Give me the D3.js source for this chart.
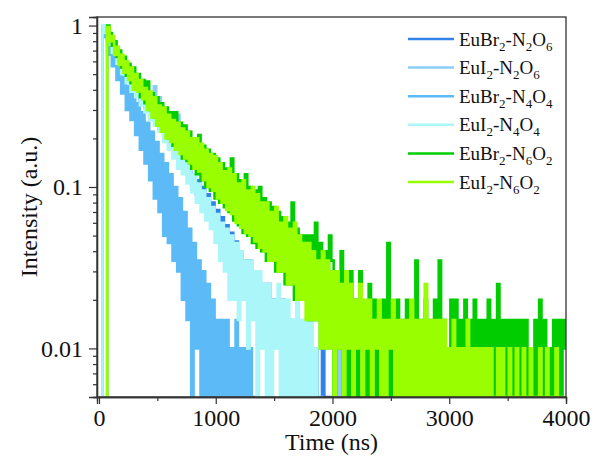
<!DOCTYPE html>
<html>
<head>
<meta charset="utf-8">
<script src="https://cdn.jsdelivr.net/npm/d3@7"></script>
<style>
  body { margin: 0; background: #fff; }
  text { font-family: "Liberation Serif", "Times New Roman", serif; fill: #111; }
</style>
</head>
<body>
<svg width="594" height="457"></svg>
<script>
const time = d3.range(0, 4001, 20);

const seriesNames = ["EuBr_2-N_2O_6", "EuI_2-N_2O_6", "EuBr_2-N_4O_4", "EuI_2-N_4O_4", "EuBr_2-N_6O_2", "EuI_2-N_6O_2"];
const seriesColors = ["#3282ec", "#8ccdf8", "#5cbaf6", "#aaf6f8", "#00cc00", "#99ff00"];

const EuBr2_N2O6 = [0,0,0.97,0.92,0.82,0.78,0.70,0.68,0.61,0.60,
  0.53,0.53,0.47,0.47,0.42,0.43,0.38,0.39,0.34,0.36,
  0.31,0.33,0.28,0.30,0.26,0.27,0.23,0.25,0.21,0.23,
  0.19,0.21,0.17,0.19,0.15,0.17,0.135,0.155,0.12,0.14,
  0.10,0.12,0.09,0.11,0.08,0.10,0.07,0.09,0.065,0.08,
  0.058,0.072,0.052,0.065,0.046,0.058,0.04,0.052,0.036,0.046,
  0.03,0.04,0.03,0.035,0.025,0.035,0.02,0.03,0.02,0.025,
  0.02,0.025,0.015,0.025,0.015,0.02,0.015,0.02,0.01,0.02,
  0.01,0.015,0.01,0.015,0.005,0.015,0.005,0.01,0.005,0.01,
  0,0.01,0.005,0.01,0,0.005,0.01,0,0.005,0,
  0.005,0,0.01,0,0.005,0,0.005,0.01,0,0.005,
  0];

const EuI2_N2O6 = [0,0,0.95,1.0,0.93,0.84,0.80,0.74,0.72,0.66,
  0.64,0.58,0.57,0.52,0.52,0.46,0.47,0.42,0.43,0.38,
  0.40,0.35,0.38,0.32,0.42,0.29,0.36,0.26,0.31,0.24,
  0.29,0.22,0.27,0.21,0.28,0.19,0.23,0.18,0.22,0.17,
  0.20,0.16,0.19,0.15,0.18,0.14,0.17,0.13,0.155,0.12,
  0.145,0.11,0.135,0.10,0.125,0.095,0.115,0.088,0.11,0.08,
  0.10,0.075,0.095,0.07,0.09,0.065,0.085,0.06,0.08,0.055,
  0.075,0.05,0.07,0.045,0.065,0.04,0.06,0.04,0.055,0.035,
  0.05,0.03,0.045,0.03,0.045,0.025,0.04,0.02,0.035,0.02,
  0.035,0.015,0.03,0.015,0.025,0.01,0.025,0.01,0.02,0.01,
  0.02,0.005,0.015,0.005,0.015,0,0.01,0.005,0.01,0,
  0.01,0,0.005,0];

const EuBr2_N4O4 = [0,0,0.98,0.85,0.66,0.74,0.56,0.64,0.46,0.56,
  0.38,0.48,0.30,0.42,0.26,0.38,0.21,0.33,0.17,0.29,
  0.14,0.25,0.11,0.22,0.085,0.19,0.07,0.16,0.05,0.14,
  0.045,0.12,0.035,0.10,0.03,0.085,0.02,0.07,0.015,0.055,
  0,0.045,0.01,0.035,0.005,0.03,0.005,0.025,0,0.02,
  0.005,0.015,0,0.015,0.005,0.015,0,0.01,0.005,0.015,
  0,0.01,0.005,0.01,0,0.01,0.005,0];

const EuI2_N4O4 = [0,0,1.0,0.90,0.80,0.76,0.68,0.66,0.58,0.58,
  0.50,0.52,0.44,0.47,0.39,0.44,0.36,0.40,0.32,0.37,
  0.29,0.34,0.26,0.31,0.24,0.29,0.22,0.26,0.19,0.24,
  0.17,0.21,0.15,0.19,0.13,0.165,0.12,0.15,0.105,0.135,
  0.093,0.12,0.08,0.105,0.07,0.095,0.062,0.085,0.055,0.075,
  0.045,0.068,0.035,0.06,0.03,0.055,0.02,0.05,0.02,0.045,
  0.015,0.04,0.02,0.035,0.01,0.035,0.015,0.03,0.005,0.03,
  0.01,0.025,0.005,0.025,0.005,0.02,0.01,0.025,0,0.02,
  0.005,0.02,0,0.015,0.005,0.02,0,0.015,0.005,0.015,
  0,0.015,0.005,0.01,0,0.005,0];

const EuBr2_N6O2 = [0,0,0,0,1.0,0.90,0.75,0.80,0.64,0.70,
  0.55,0.64,0.49,0.58,0.44,0.55,0.40,0.50,0.36,0.46,
  0.33,0.45,0.30,0.38,0.27,0.36,0.25,0.33,0.22,0.31,
  0.20,0.29,0.18,0.29,0.17,0.25,0.15,0.24,0.145,0.22,
  0.13,0.20,0.12,0.21,0.11,0.18,0.10,0.17,0.095,0.16,
  0.085,0.15,0.08,0.14,0.075,0.13,0.07,0.15,0.062,0.12,
  0.058,0.11,0.052,0.12,0.05,0.10,0.045,0.095,0.042,0.10,
  0.04,0.085,0.035,0.08,0.035,0.075,0.03,0.07,0.03,0.065,
  0.025,0.06,0.025,0.08,0.02,0.055,0.02,0.05,0.02,0.05,
  0.015,0.05,0.015,0.06,0.015,0.045,0.01,0.04,0.015,0.05,
  0.035,0.005,0.025,0.01,0.04,0.005,0.02,0.005,0.03,0.01,
  0.02,0.005,0.03,0.01,0.015,0.005,0.025,0.01,0.02,0.005,
  0.015,0.01,0.02,0.005,0.045,0.005,0.015,0.01,0.02,0.005,
  0.015,0.01,0.02,0.005,0.015,0.005,0.035,0.005,0.015,0.01,
  0.02,0.005,0.015,0.01,0.02,0,0.035,0.005,0.015,0.01,
  0.005,0.02,0,0.02,0.005,0.015,0.01,0.02,0,0.015,
  0.005,0.02,0.005,0.015,0,0.015,0.005,0.02,0.005,0.015,
  0,0.025,0.005,0.015,0,0.015,0.005,0.015,0,0.015,
  0.005,0.015,0,0.015,0.005,0.01,0,0.015,0.005,0.02,
  0,0.015,0.005,0.01,0,0.015,0.005,0.015,0,0.015,
  0.01];

const EuI2_N6O2 = [0,0,0,0,0.98,0.80,0.86,0.66,0.74,0.57,
  0.66,0.51,0.60,0.46,0.55,0.40,0.50,0.39,0.46,0.35,
  0.41,0.30,0.39,0.27,0.36,0.24,0.32,0.22,0.31,0.20,
  0.28,0.19,0.26,0.17,0.25,0.16,0.23,0.15,0.22,0.14,
  0.20,0.13,0.20,0.125,0.185,0.11,0.17,0.10,0.16,0.095,
  0.155,0.085,0.14,0.08,0.125,0.072,0.13,0.068,0.12,0.06,
  0.105,0.056,0.11,0.052,0.095,0.05,0.10,0.046,0.09,0.042,
  0.08,0.04,0.08,0.035,0.07,0.035,0.075,0.03,0.06,0.03,
  0.065,0.025,0.055,0.025,0.06,0.02,0.05,0.02,0.045,0.015,
  0.045,0.015,0.04,0.015,0.035,0.01,0.04,0.01,0.035,0.01,
  0.03,0.005,0.03,0.01,0.025,0.005,0.03,0.01,0.025,0.005,
  0.02,0.01,0.025,0.005,0.02,0.01,0.02,0.005,0.015,0.01,
  0.02,0.005,0.015,0,0.015,0.01,0.02,0.005,0.015,0,
  0.015,0.005,0.015,0.005,0.02,0,0.015,0.005,0.015,0.005,
  0.025,0,0.015,0.005,0.015,0,0.015,0.005,0.015,0,
  0.01,0.005,0.015,0,0.01,0.005,0.01,0,0.015,0.005,
  0.01,0,0.01,0.005,0.01,0,0.01,0.005,0.01,0,
  0.005,0.01,0,0.01,0.005,0,0.01,0.005,0,0.01,
  0,0.005,0.01,0,0.005,0.01,0,0.005,0,0.01,
  0.005,0,0.01,0,0.005,0,0.01,0.005,0,0.005,
  0];

const seriesValues = [EuBr2_N2O6, EuI2_N2O6, EuBr2_N4O4, EuI2_N4O4, EuBr2_N6O2, EuI2_N6O2];

const xTicks = [0, 1000, 2000, 3000, 4000];
const xMinor = [500, 1500, 2500, 3500];
const yTicks = [1, 0.1, 0.01];
const yTickLabels = ["1", "0.1", "0.01"];
const yMinor = [0.005, 0.006, 0.007, 0.008, 0.009, 0.02, 0.03, 0.04, 0.05, 0.06, 0.07, 0.08, 0.09,
  0.2, 0.3, 0.4, 0.5, 0.6, 0.7, 0.8, 0.9];

const svg = d3.select("svg");
const margin = { top: 17, right: 28, bottom: 60, left: 97 };
const width = +svg.attr("width") - margin.left - margin.right;
const height = +svg.attr("height") - margin.top - margin.bottom;

const chart = svg.append("g")
  .attr("transform", `translate(${margin.left},${margin.top})`);

const x = d3.scaleLinear().domain([-17, 4000]).range([0, width]);
const y = d3.scaleLog().domain([0.005, 1.13]).range([height, 0]);
const floor = 0.004; // zero counts fall below the frame

chart.append("clipPath").attr("id", "plot-clip")
  .append("rect").attr("width", width).attr("height", height);

// curves as histogram-like steps, first in the legend drawn first
const line = d3.line()
  .curve(d3.curveStep)
  .x((d, i) => x(time[i]))
  .y(d => y(Math.max(d, floor)));

chart.append("g")
  .attr("clip-path", "url(#plot-clip)")
  .selectAll("path")
  .data(seriesValues)
  .join("path")
  .attr("d", d => line(d))
  .attr("fill", "none")
  .attr("stroke", (d, i) => seriesColors[i])
  .attr("stroke-width", 2.6);

// frame
chart.append("rect")
  .attr("width", width).attr("height", height)
  .attr("fill", "none").attr("stroke", "#333").attr("stroke-width", 1.3);

// axes
chart.append("g")
  .attr("transform", `translate(0,${height})`)
  .call(d3.axisBottom(x).tickValues(xTicks).tickFormat(d3.format("d")).tickSize(7).tickPadding(5));
chart.append("g")
  .attr("transform", `translate(0,${height})`)
  .call(d3.axisBottom(x).tickValues(xMinor).tickFormat("").tickSize(4));

chart.append("g")
  .call(d3.axisLeft(y).tickValues(yTicks).tickFormat((d, i) => yTickLabels[i]).tickSize(8).tickPadding(6));
chart.append("g")
  .call(d3.axisLeft(y).tickValues(yMinor).tickFormat("").tickSize(4));

chart.selectAll(".domain").attr("stroke", "#333").attr("stroke-width", 1.3);
chart.selectAll(".tick line").attr("stroke", "#333").attr("stroke-width", 1.2);
chart.selectAll(".tick text")
  .attr("font-family", "Liberation Serif, serif")
  .attr("font-size", 24)
  .attr("fill", "#111");

// axis titles
svg.append("text")
  .attr("x", margin.left + width / 2)
  .attr("y", 450)
  .attr("text-anchor", "middle")
  .attr("font-size", 24)
  .text("Time (ns)");

svg.append("text")
  .attr("transform", `translate(37,${margin.top + height / 2}) rotate(-90)`)
  .attr("text-anchor", "middle")
  .attr("font-size", 24)
  .text("Intensity (a.u.)");

// legend
const legend = svg.append("g").attr("transform", "translate(408,39)");
seriesNames.forEach((name, i) => {
  const row = legend.append("g").attr("transform", `translate(0,${i * 28.6})`);
  row.append("line")
    .attr("x1", 0).attr("x2", 46)
    .attr("stroke", seriesColors[i]).attr("stroke-width", 2.5);
  const label = row.append("text").attr("x", 51).attr("y", 6.5).attr("font-size", 19);
  name.split(/_(\d)/).forEach((part, j) => {
    if (!part) return;
    if (j % 2 === 1) {
      label.append("tspan").attr("font-size", 13).attr("dy", 5).text(part);
    } else {
      label.append("tspan").attr("dy", j === 0 ? 0 : -5).text(part);
    }
  });
});
</script>
</body>
</html>
